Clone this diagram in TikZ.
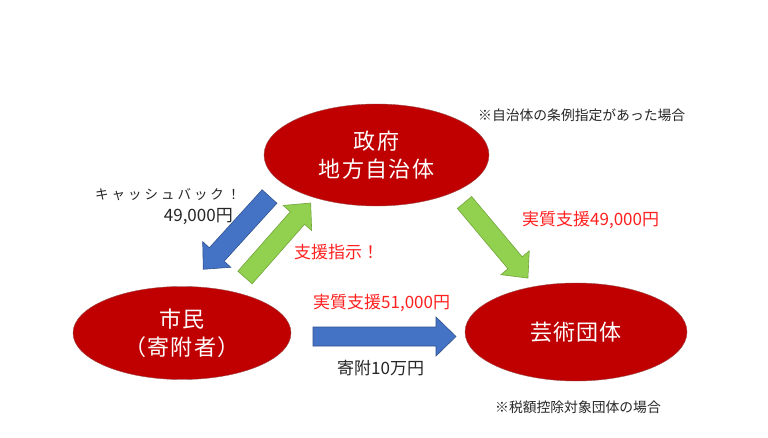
\documentclass[tikz,border=0pt]{standalone}
\usepackage{fontspec}
\newfontfamily\jp{Noto Sans CJK JP}
\newfontfamily\jpsp{Noto Sans CJK JP}[LetterSpace=22]
\newfontfamily\jpbig{Noto Sans CJK JP}[LetterSpace=6]
\usetikzlibrary{shapes.geometric}
\definecolor{ellred}{HTML}{C00000}
\definecolor{ellline}{HTML}{9A4A4A}
\definecolor{arrblue}{HTML}{4472C4}
\definecolor{arrblueline}{HTML}{2F528F}
\definecolor{arrgreen}{HTML}{92D050}
\definecolor{arrgreenline}{HTML}{71A53A}
\definecolor{txtred}{HTML}{FF2020}
\definecolor{txtdark}{HTML}{262626}
\tikzset{
  ell/.style={ellipse, fill=ellred, draw=ellline, line width=0.4pt, text=white, align=center, inner sep=0pt,
    font=\jpbig\fontsize{22}{28}\selectfont},
  bluearr/.style={fill=arrblue, draw=arrblueline, line width=0.6pt, line join=miter},
  greenarr/.style={fill=arrgreen, draw=arrgreenline, line width=0.6pt, line join=miter},
  redlabel/.style={text=txtred, inner sep=0pt, font=\jp\fontsize{17}{20}\selectfont},
  darklabel/.style={text=txtdark, inner sep=0pt, font=\jp\fontsize{17}{20}\selectfont},
  notelabel/.style={text=txtdark, inner sep=0pt, font=\jp\fontsize{13.8}{16}\selectfont}
}
\newcommand\mkarrow[8]{% #1 style, #2 name, #3 tail, #4 angle, #5 length, #6 shaft, #7 head width, #8 head length
  \begin{scope}[shift={#3},rotate=#4]
    \coordinate (#2) at (0,0);
    \draw[#1] (0,{#6/2}) -- ({#5-#8},{#6/2}) -- ({#5-#8},{#7/2}) -- (#5,0) -- ({#5-#8},{-#7/2}) -- ({#5-#8},{-#6/2}) -- (0,{-#6/2}) -- cycle;
  \end{scope}}
\begin{document}
\begin{tikzpicture}[x=1pt,y=-1pt]
\useasboundingbox (0,0) rectangle (768,438);
\fill[white] (0,0) rectangle (768,438);

% ellipses
\node[ell, minimum width=225pt, minimum height=102pt] (gov) at (376.5,155) {政府\\地方自治体};
\node[ell, minimum width=218pt, minimum height=93pt] (cit) at (182,333) {市民\\（寄附者）};
\node[ell, minimum width=222pt, minimum height=98pt] (art) at (576,332) {芸術団体};

% block arrows
\mkarrow{bluearr}{cashback}{(269.5,196.5)}{227.7}{98.4}{20}{38}{20}
\mkarrow{greenarr}{order}{(245,277.5)}{48.6}{99.3}{19}{38}{20}
\mkarrow{greenarr}{support}{(464.5,202.5)}{-50}{98.7}{18.6}{37}{20}
\mkarrow{bluearr}{donate}{(313,336.5)}{0}{143}{19}{39}{20}

% labels
\node[notelabel, anchor=west] (note1) at (478,115) {※自治体の条例指定があった場合};
\node[notelabel, anchor=west] (note2) at (495,407) {※税額控除対象団体の場合};
\node[text=txtdark, inner sep=0pt, font=\jpsp\fontsize{13.5}{16}\selectfont, anchor=west] (cb1) at (95,195) {キャッシュバック！};
\node[darklabel, anchor=east] (cb2) at (233,217) {49,000円};
\node[redlabel, anchor=west] (ord) at (294,252) {支援指示！};
\node[redlabel, anchor=west] (sup49) at (522,220) {実質支援49,000円};
\node[redlabel, anchor=west] (sup51) at (313,303) {実質支援51,000円};
\node[darklabel, anchor=west] (don) at (337,368) {寄附10万円};
\end{tikzpicture}
\end{document}
